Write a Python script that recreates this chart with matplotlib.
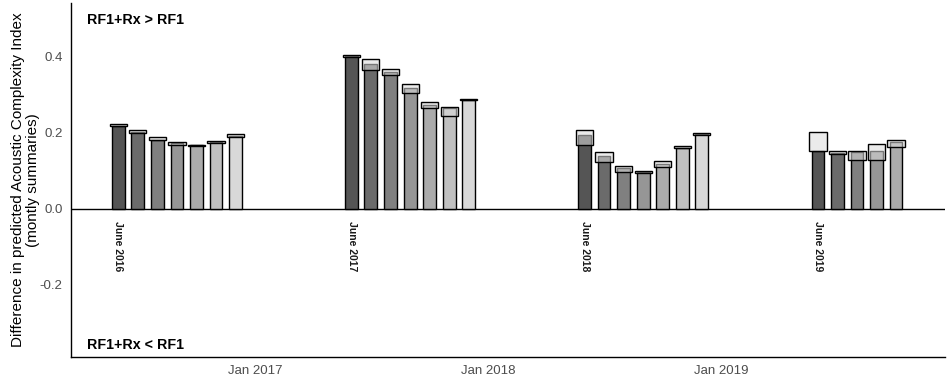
import datetime as dt
import matplotlib
matplotlib.use("Agg")
import matplotlib.pyplot as plt
import matplotlib.dates as mdates

plt.rcParams['font.family'] = ['Liberation Sans', 'DejaVu Sans']

# mesi (giugno-dicembre) per ogni anno
years = [2016, 2017, 2018, 2019]
months = [6, 7, 8, 9, 10, 11, 12]
grey = ['#555555', '#6b6b6b', '#808080', '#969696', '#ababab', '#c0c0c0', '#d8d8d8']

# valore della barra (differenza media)
val_2016 = [0.217, 0.200, 0.181, 0.171, 0.166, 0.174, 0.191]
val_2017 = [0.401, 0.380, 0.358, 0.316, 0.271, 0.263, 0.285]
val_2018 = [0.194, 0.137, 0.106, 0.097, 0.117, 0.160, 0.196]
val_2019 = [0.152, 0.146, 0.148, 0.150, 0.176]

# riquadri (intervallo min-max)
lo_2016 = [0.216, 0.198, 0.179, 0.168, 0.165, 0.171, 0.188]
hi_2016 = [0.223, 0.207, 0.187, 0.175, 0.167, 0.177, 0.195]
lo_2017 = [0.399, 0.364, 0.352, 0.304, 0.265, 0.244, 0.284]
hi_2017 = [0.403, 0.392, 0.366, 0.326, 0.281, 0.268, 0.287]
lo_2018 = [0.168, 0.121, 0.096, 0.093, 0.109, 0.158, 0.194]
hi_2018 = [0.207, 0.148, 0.113, 0.099, 0.125, 0.164, 0.198]
lo_2019 = [0.152, 0.144, 0.127, 0.128, 0.161]
hi_2019 = [0.200, 0.152, 0.150, 0.169, 0.181]

vals = [val_2016, val_2017, val_2018, val_2019]
los = [lo_2016, lo_2017, lo_2018, lo_2019]
his = [hi_2016, hi_2017, hi_2018, hi_2019]

fig = plt.figure(figsize=(9.48, 3.84), dpi=100)
ax = fig.add_axes([0.0749, 0.0703, 0.9221, 0.922])

for y, v, lo, hi in zip(years, vals, los, his):
    d = [dt.date(y, m, 1) for m in months[:len(v)]]
    ax.bar(d, v, width=20, color=grey[:len(v)], edgecolor='black', linewidth=1, zorder=2)
    h = [b - a for a, b in zip(lo, hi)]
    ax.bar(d, h, bottom=lo, width=27, color='#dcdcdc', alpha=0.55, edgecolor='none', zorder=3)
    ax.bar(d, h, bottom=lo, width=27, fill=False, edgecolor='black', linewidth=1, zorder=4)
    ax.text(d[0], -0.033, 'June %d' % y, rotation=270, ha='center', va='top',
            fontsize=7.5, fontweight='bold', color='#1a1a1a')

ax.axhline(0, color='black', linewidth=1, zorder=1)

ax.set_xlim(dt.date(2016, 3, 19), dt.date(2019, 12, 17))
ax.set_ylim(-0.39, 0.54)
ax.xaxis.set_major_locator(mdates.YearLocator())
ax.xaxis.set_major_formatter(mdates.DateFormatter('Jan %Y'))
ax.set_yticks([-0.2, 0.0, 0.2, 0.4])
ax.set_yticklabels(['-0.2', '0.0', '0.2', '0.4'])
ax.tick_params(length=0, labelsize=9.5, colors='#4d4d4d', pad=6)
ax.tick_params(axis='x', pad=6)

for s in ['top', 'right']:
    ax.spines[s].set_visible(False)
for s in ['left', 'bottom']:
    ax.spines[s].set_linewidth(1)

ax.text(0.018, 0.952, 'RF1+Rx > RF1', transform=ax.transAxes, fontsize=10.3,
        fontweight='bold', va='center')
ax.text(0.018, 0.035, 'RF1+Rx < RF1', transform=ax.transAxes, fontsize=10.3,
        fontweight='bold', va='center')

ax.set_ylabel('Difference in predicted Acoustic Complexity Index\n(montly summaries)',
              fontsize=11, labelpad=0, linespacing=1.1)

fig.savefig('out.png', dpi=100)
